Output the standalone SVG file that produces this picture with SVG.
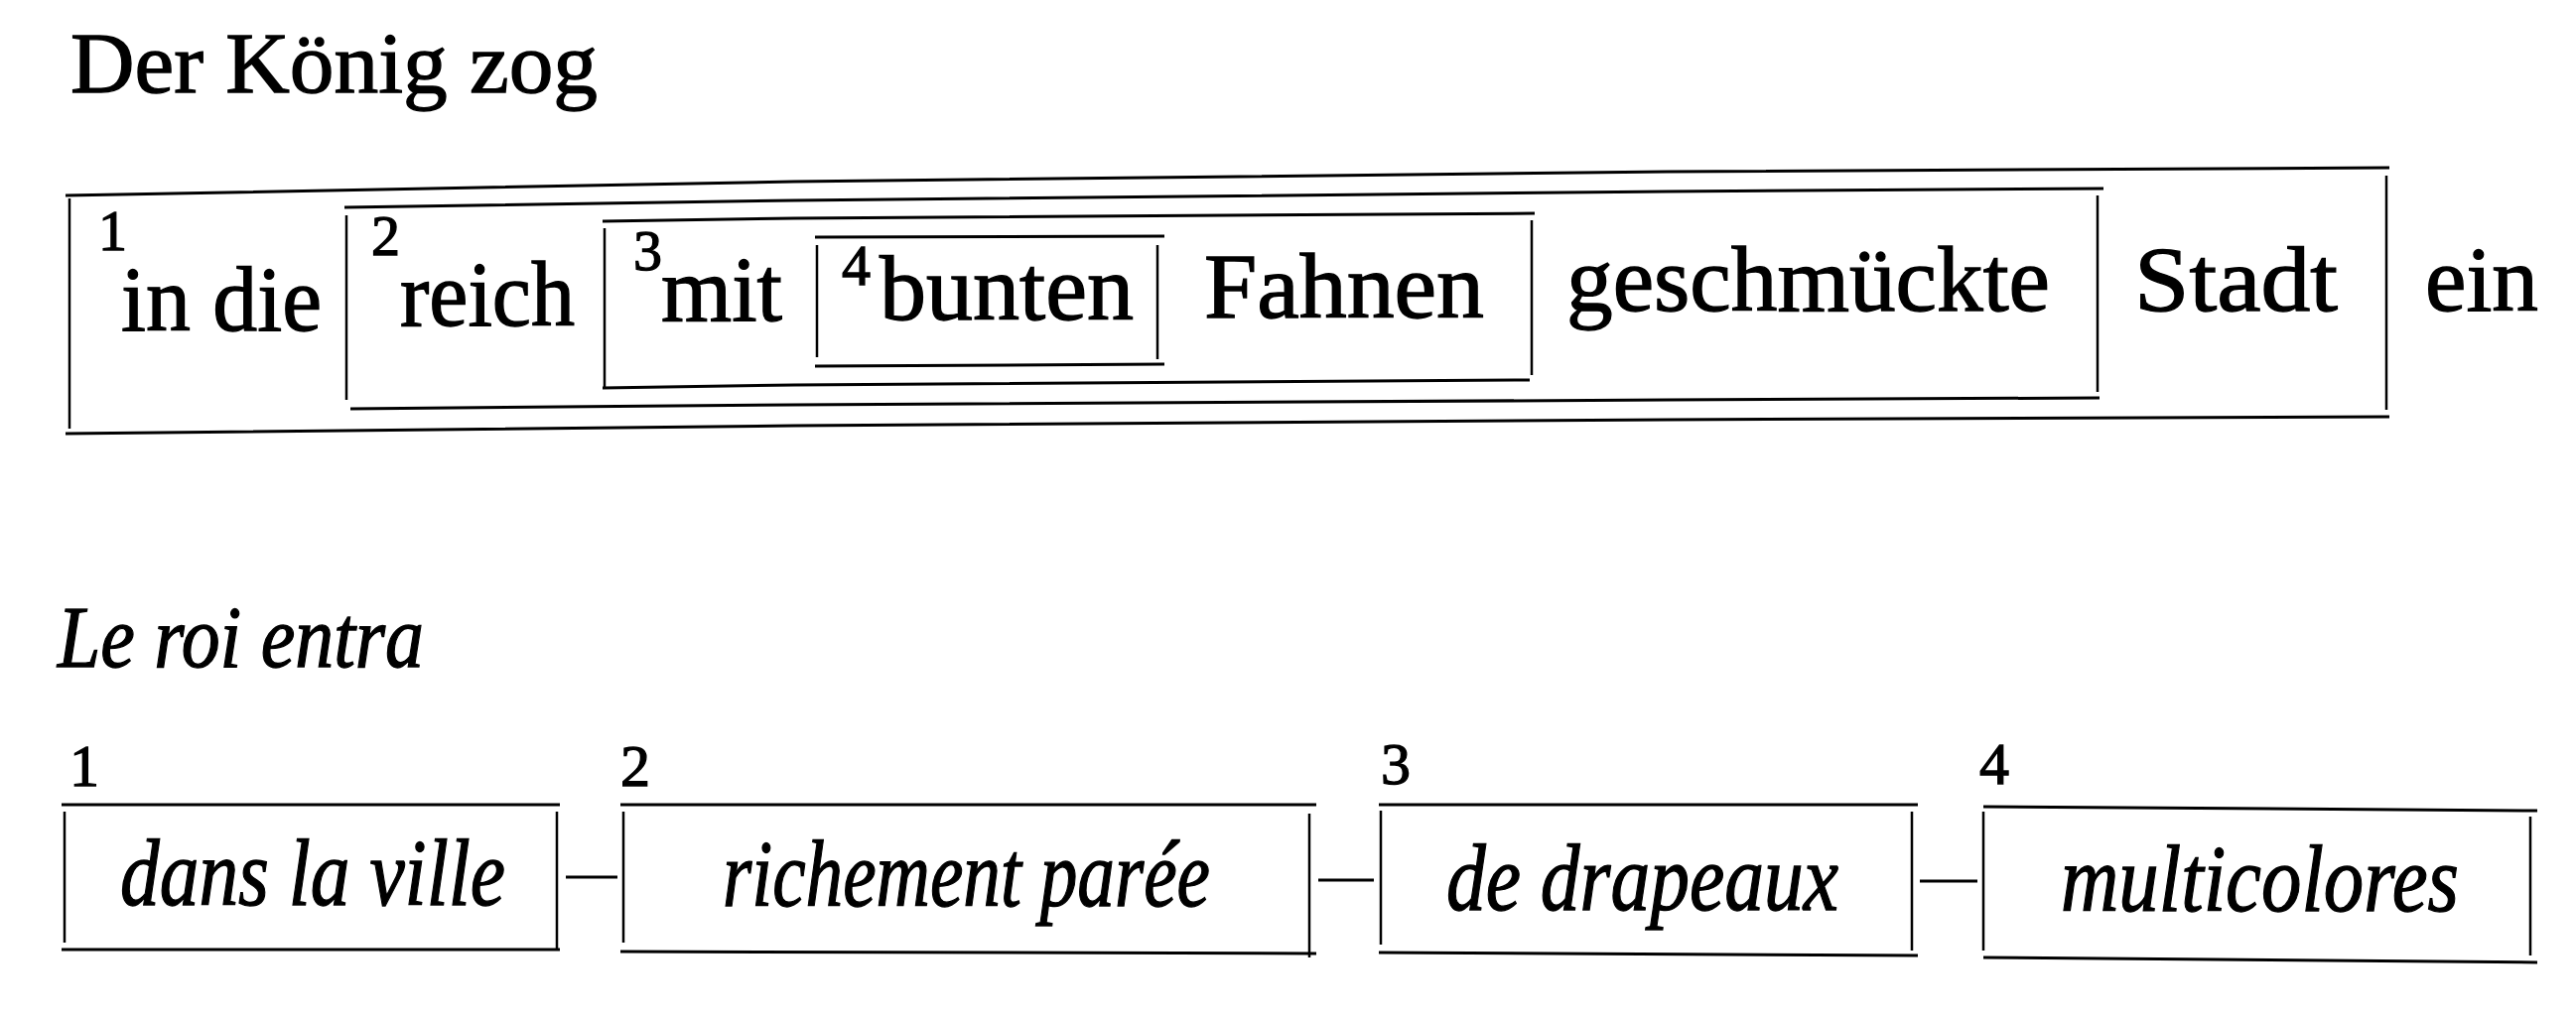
<svg xmlns="http://www.w3.org/2000/svg" width="2595" height="1026" viewBox="0 0 2595 1026">
<style>
.bg{fill:#fff}
.ln{stroke:#000;stroke-width:3;fill:none}
.vl{stroke:#000;stroke-width:2.5;fill:none}
.t{font-family:"Liberation Serif","Times New Roman",serif;fill:#000;stroke:#000;stroke-width:1.3}
.title{font-size:87px}
.de{font-size:93px}
.sup{font-size:58px}
.fr{font-size:96px;font-style:italic}
.frt{font-size:89px;font-style:italic}
.num{font-size:60px}
</style>
<rect class="bg" x="0" y="0" width="2595" height="1026"/>

<g id="de-title"><text class="t title" x="71" y="93" textLength="531" lengthAdjust="spacingAndGlyphs">Der König zog</text></g>

<g id="de-box1">
<path class="ln" d="M66,197 L800,183 L1680,173 L2407,169"/>
<path class="ln" d="M66,437 L800,429 L1680,423 L2407,420"/>
<path class="vl" d="M70,200 L70,432 M2404,177 L2404,413"/>
<text class="t sup" x="99" y="252">1</text>
<text class="t de" x="122" y="333" textLength="202" lengthAdjust="spacingAndGlyphs">in die</text>
<text class="t de" x="2150" y="313" textLength="205" lengthAdjust="spacingAndGlyphs">Stadt</text>
</g>

<g id="de-box2">
<path class="ln" d="M347,209 L800,202 L1680,193 L2119,190"/>
<path class="ln" d="M353,412 L800,408 L1680,403 L2115,401"/>
<path class="vl" d="M349,217 L349,403 M2113,197 L2113,395"/>
<text class="t sup" x="374" y="257">2</text>
<text class="t de" x="403" y="328" textLength="176" lengthAdjust="spacingAndGlyphs">reich</text>
<text class="t de" x="1578" y="313" textLength="487" lengthAdjust="spacingAndGlyphs">geschmückte</text>
</g>

<g id="de-box3">
<path class="ln" d="M607,223 L800,220 L1546,215"/>
<path class="ln" d="M607,391 L800,388 L1541,383"/>
<path class="vl" d="M609,230 L609,390 M1543,222 L1543,378"/>
<text class="t sup" x="638" y="272">3</text>
<text class="t de" x="666" y="323" textLength="122" lengthAdjust="spacingAndGlyphs">mit</text>
<text class="t de" x="1213" y="320" textLength="282" lengthAdjust="spacingAndGlyphs">Fahnen</text>
</g>

<g id="de-box4">
<path class="ln" d="M821,239 L1173,238"/>
<path class="ln" d="M821,369 L1173,367"/>
<path class="vl" d="M823,247 L823,360 M1166,247 L1166,362"/>
<text class="t sup" x="848" y="287">4</text>
<text class="t de" x="886" y="322" textLength="256" lengthAdjust="spacingAndGlyphs">bunten</text>
</g>

<g id="de-ein"><text class="t de" x="2443" y="313" textLength="114" lengthAdjust="spacingAndGlyphs">ein</text></g>

<g id="fr-title"><text class="t frt" x="58" y="672" textLength="369" lengthAdjust="spacingAndGlyphs">Le roi entra</text></g>

<g id="fr-box1">
<text class="t num" x="70" y="792">1</text>
<path class="ln" d="M62,811 L564,811 M62,957 L564,957"/>
<path class="vl" d="M65,818 L65,950 M561,818 L561,958"/>
<text class="t fr" x="121" y="912" textLength="388" lengthAdjust="spacingAndGlyphs">dans la ville</text>
</g>

<g id="fr-box2">
<text class="t num" x="625" y="792">2</text>
<path class="ln" d="M625,811 L1326,811 M625,959 L1326,961"/>
<path class="vl" d="M628,818 L628,950 M1319,820 L1319,965"/>
<text class="t fr" x="728" y="913" textLength="491" lengthAdjust="spacingAndGlyphs">richement parée</text>
</g>

<g id="fr-box3">
<text class="t num" x="1391" y="790">3</text>
<path class="ln" d="M1389,811 L1932,811 M1389,960 L1932,963"/>
<path class="vl" d="M1391,817 L1391,952 M1926,818 L1926,958"/>
<text class="t fr" x="1457" y="917" textLength="395" lengthAdjust="spacingAndGlyphs">de drapeaux</text>
</g>

<g id="fr-box4">
<text class="t num" x="1994" y="790">4</text>
<path class="ln" d="M1998,813 L2556,817 M1998,965 L2556,970"/>
<path class="vl" d="M1998,818 L1998,958 M2549,823 L2549,963"/>
<text class="t fr" x="2076" y="918" textLength="401" lengthAdjust="spacingAndGlyphs">multicolores</text>
</g>

<g id="connectors">
<path class="ln" d="M570,884 L622,884 M1328,887 L1384,887 M1934,888 L1992,888"/>
</g>
</svg>
